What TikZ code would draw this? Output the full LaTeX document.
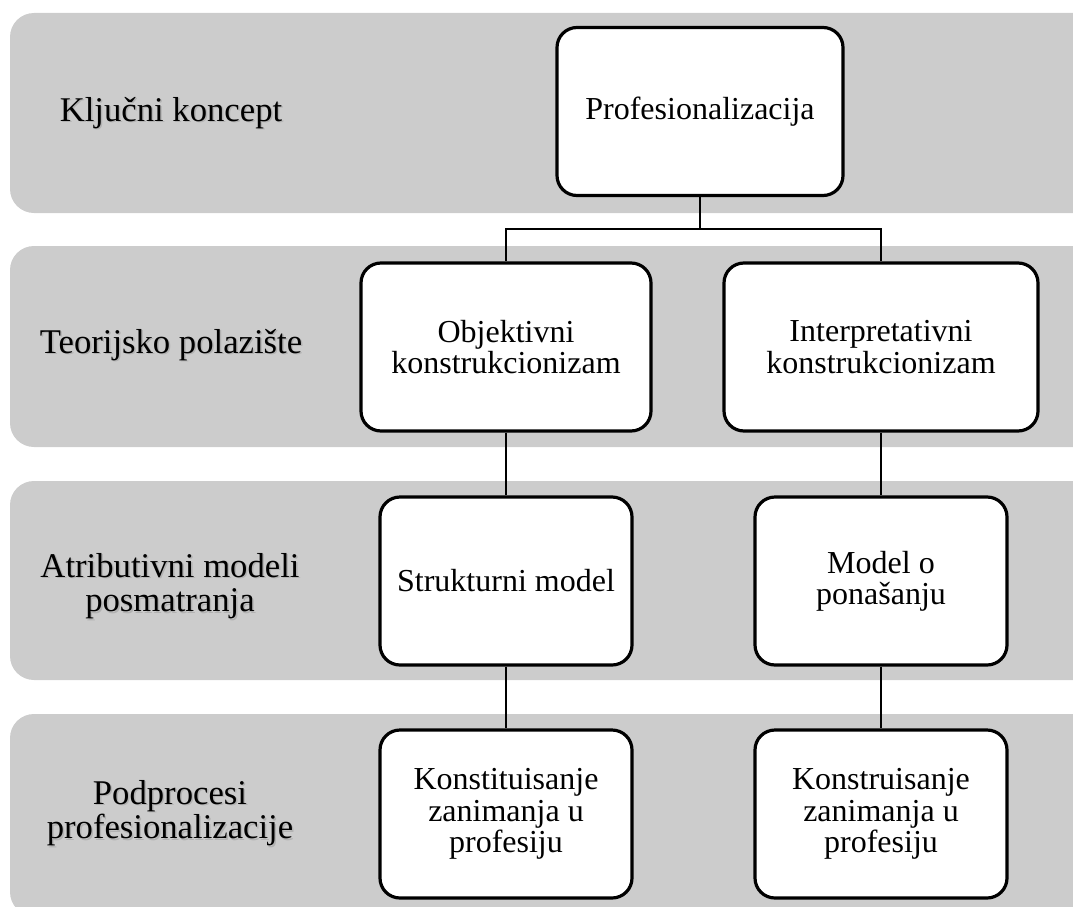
\documentclass[tikz,border=0pt]{standalone}
\usepackage{fontspec}
\setmainfont{Liberation Serif}
\definecolor{bandgray}{HTML}{CCCCCC}
\tikzset{
  band/.style={fill=bandgray, rounded corners=18pt},
  box/.style={draw, line width=2.4pt, rounded corners=15pt, fill=white, align=center,
    minimum height=126pt, inner sep=2pt, font=\fontsize{24}{23.5}\selectfont},
  level/.style={align=center, font=\fontsize{26}{26}\selectfont},
  level shadow/.style={level, text=black!30},
  link/.style={line width=1.6pt},
}

\begin{document}
\begin{tikzpicture}[x=0.75pt, y=-0.75pt]
  \useasboundingbox (0,0) rectangle (1073,906);
  \clip (0,0) rectangle (1073,906);

  % Bands
  \fill[band] (10,13) rectangle (1120,213);
  \fill[band] (10,246) rectangle (1120,447);
  \fill[band] (10,481) rectangle (1120,680);
  \fill[band] (10,714) rectangle (1120,916);

  % Level labels (with soft shadow)
  \node[level shadow] (kljucS) at (172.5,114.5) {Ključni koncept};
  \node[level] (kljuc) at (171,113) {Ključni koncept};
  \node[level shadow] (teorS) at (172.5,346.5) {Teorijsko polazište};
  \node[level] (teor) at (171,345) {Teorijsko polazište};
  \node[level shadow] (atribS) at (171.5,587.5) {Atributivni modeli\\posmatranja};
  \node[level] (atrib) at (170,586) {Atributivni modeli\\posmatranja};
  \node[level shadow] (podS) at (171.5,814.5) {Podprocesi\\profesionalizacije};
  \node[level] (pod) at (170,813) {Podprocesi\\profesionalizacije};

  % Boxes
  \node[box, minimum width=214.5pt] (prof) at (700,111.5) {Profesionalizacija};
  \node[box, minimum width=217.5pt] (obj) at (506,347) {Objektivni\\konstrukcionizam};
  \node[box, minimum width=235.5pt] (int) at (881,347) {Interpretativni\\konstrukcionizam};
  \node[box, minimum width=189pt] (struk) at (506,581) {Strukturni model};
  \node[box, minimum width=189pt] (model) at (881,581) {Model o\\ponašanju};
  \node[box, minimum width=189pt] (konst) at (506,814) {Konstituisanje\\zanimanja u\\profesiju};
  \node[box, minimum width=189pt] (konstr) at (881,814) {Konstruisanje\\zanimanja u\\profesiju};

  % Connectors
  \coordinate (split) at (700,229);
  \draw[link] (prof.south) -- (split) -| (obj.north);
  \draw[link] (split) -| (int.north);
  \draw[link] (obj) -- (struk);
  \draw[link] (int) -- (model);
  \draw[link] (struk) -- (konst);
  \draw[link] (model) -- (konstr);
\end{tikzpicture}
\end{document}
